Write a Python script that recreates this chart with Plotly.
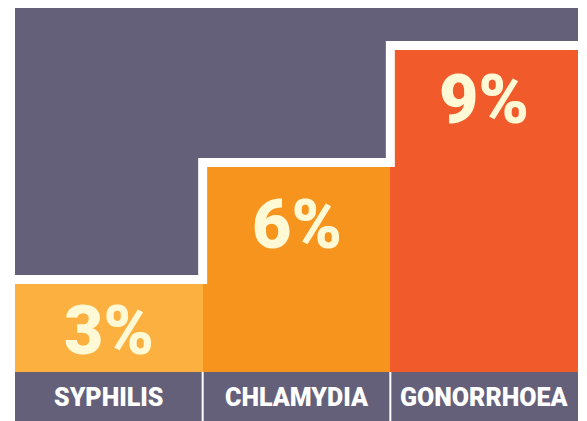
import plotly.graph_objects as go

# ---- data ----
categories = ["SYPHILIS", "CHLAMYDIA", "GONORRHOEA"]
values = [3, 6, 9]
value_labels = ["3%", "6%", "9%"]

# ---- styles ----
bar_colors = ["#fbb040", "#f7941e", "#f15a2b"]
bg_purple = "#64607a"
cream = "#fffad5"
label_yshift = [-47, -58, -50]   # px, label centre below bar top
font_main = "Roboto, Liberation Sans Narrow, DejaVu Sans Condensed, sans-serif"

W, H = 570, 413
m_l, m_r, m_t, m_b = 7, 0, 0, 0
plot_h = H - m_t - m_b
y_lo, y_hi = -0.513, 10.077
px_per_unit = plot_h / (y_hi - y_lo)
band_px = 49
band_frac = band_px / plot_h
line_w = 9
off = (line_w / 2) / px_per_unit

xs = list(range(len(categories)))

fig = go.Figure()
fig.add_trace(go.Bar(
    x=xs, y=values, width=1.0,
    marker=dict(color=bar_colors, line=dict(width=0)),
    hoverinfo="skip", showlegend=False,
))

# white stepped outline above the bars
lx, ly = [], []
for i, v in enumerate(values):
    lx += [i - 0.5, i + 0.5]
    ly += [v + off, v + off]
fig.add_trace(go.Scatter(
    x=lx, y=ly, mode="lines",
    line=dict(color="white", width=line_w),
    hoverinfo="skip", showlegend=False,
))

annotations = []
for i, (v, t) in enumerate(zip(values, value_labels)):
    annotations.append(dict(
        x=i, y=v, xref="x", yref="y", text=t, showarrow=False,
        yshift=label_yshift[i], yanchor="middle", xanchor="center",
        font=dict(family=font_main, size=68, color=cream, weight=900),
    ))
for i, c in enumerate(categories):
    annotations.append(dict(
        x=i, y=band_frac / 2, xref="x", yref="paper", text=c,
        showarrow=False, yanchor="middle", xanchor="center", yshift=-1,
        font=dict(family=font_main, size=25, color="white", weight=900),
    ))

shapes = [dict(
    type="rect", xref="paper", yref="paper", x0=0, x1=1, y0=0, y1=band_frac,
    fillcolor=bg_purple, line=dict(width=0), layer="above",
)]
for i in range(len(categories) - 1):
    shapes.append(dict(
        type="line", xref="x", yref="paper", x0=i + 0.5, x1=i + 0.5,
        y0=0, y1=band_frac, line=dict(color="white", width=2), layer="above",
    ))

fig.update_layout(
    width=W, height=H,
    margin=dict(l=m_l, r=m_r, t=m_t, b=m_b),
    paper_bgcolor="white", plot_bgcolor=bg_purple,
    xaxis=dict(range=[-0.5, 2.5], visible=False, fixedrange=True),
    yaxis=dict(range=[y_lo, y_hi], visible=False, fixedrange=True),
    bargap=0, annotations=annotations, shapes=shapes,
)

fig.write_html("out.html")
